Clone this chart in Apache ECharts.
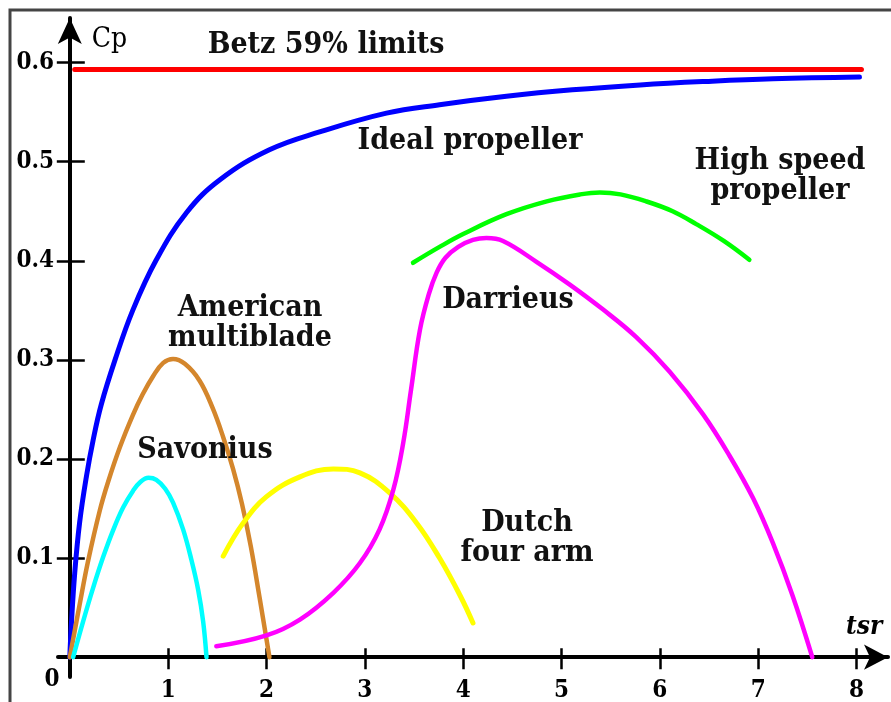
<!DOCTYPE html>
<html>
<head>
<meta charset="utf-8">
<script src="https://cdn.jsdelivr.net/npm/echarts@6/dist/echarts.min.js"></script>
<style>
html,body{margin:0;padding:0;background:#fff;}
#chart{width:891px;height:702px;}
</style>
</head>
<body>
<div id="chart"></div>
<script>
// ---- data ----
const xTicks = [1, 2, 3, 4, 5, 6, 7, 8];
const yTicks = [0.1, 0.2, 0.3, 0.4, 0.5, 0.6];

const betzX = [0.05, 8.05];
const betzY = [0.593, 0.593];

const idealX = [0, 0.017, 0.05, 0.10, 0.17, 0.237, 0.32, 0.46, 0.64, 0.88, 1.19, 1.53, 2.03, 2.54, 3.22, 3.76, 4.44, 5.11, 5.8, 6.47, 7.15, 8.03];
const idealY = [0, 0.035, 0.085, 0.136, 0.183, 0.219, 0.255, 0.3, 0.35, 0.401, 0.449, 0.482, 0.512, 0.53, 0.549, 0.5575, 0.566, 0.5725, 0.5775, 0.581, 0.5837, 0.5855];

const multiX = [0, 0.10, 0.186, 0.305, 0.39, 0.51, 0.64, 0.74, 0.85, 0.95, 1.05, 1.17, 1.32, 1.45, 1.56, 1.66, 1.75, 1.84, 1.93, 2.03];
const multiY = [0, 0.053, 0.097, 0.148, 0.177, 0.212, 0.244, 0.265, 0.284, 0.297, 0.301, 0.296, 0.279, 0.252, 0.222, 0.19, 0.155, 0.112, 0.06, 0];

const savoX = [0.034, 0.135, 0.237, 0.339, 0.44, 0.542, 0.644, 0.72, 0.8, 0.88, 0.97, 1.05, 1.152, 1.237, 1.305, 1.356, 1.39];
const savoY = [0, 0.036, 0.07, 0.101, 0.128, 0.151, 0.168, 0.177, 0.181, 0.179, 0.17, 0.156, 0.129, 0.098, 0.068, 0.036, 0];

const dutchX = [1.56, 1.76, 2.0, 2.34, 2.68, 2.95, 3.25, 3.53, 3.76, 3.97, 4.1];
const dutchY = [0.102, 0.135, 0.162, 0.182, 0.19, 0.186, 0.166, 0.135, 0.1, 0.062, 0.0345];

const darrX = [1.49, 2.0, 2.34, 2.68, 2.95, 3.15, 3.29, 3.39, 3.47, 3.56, 3.65, 3.73, 3.82, 3.95, 4.1, 4.237, 4.405, 4.745, 5.084, 5.42, 5.76, 6.10, 6.44, 6.71, 6.95, 7.15, 7.35, 7.55];
const darrY = [0.011, 0.022, 0.038, 0.065, 0.095, 0.129, 0.169, 0.216, 0.27, 0.33, 0.366, 0.388, 0.403, 0.414, 0.421, 0.423, 0.42, 0.399, 0.376, 0.351, 0.323, 0.288, 0.245, 0.203, 0.16, 0.115, 0.062, 0];

const greenX = [3.49, 3.76, 4.0, 4.44, 4.85, 5.19, 5.39, 5.6, 5.86, 6.13, 6.37, 6.65, 6.91];
const greenY = [0.398, 0.414, 0.427, 0.447, 0.46, 0.467, 0.469, 0.467, 0.46, 0.45, 0.437, 0.42, 0.401];

// ---- build ----
const zip = (xs, ys) => xs.map((x, i) => [x, ys[i]]);
const FONT_FAMILY = '"DejaVu Serif Condensed", "DejaVu Serif", serif';
const chart = echarts.init(document.getElementById('chart'), null, {renderer: 'canvas'});

function line(name, xs, ys, color, width, smooth) {
  return {
    name: name, type: 'line', data: zip(xs, ys), showSymbol: false, symbol: 'none',
    smooth: smooth,
    lineStyle: {color: color, width: width, cap: 'round', join: 'round'},
    silent: true, z: 3
  };
}

function label(text, x, y) {
  return {
    type: 'text', x: x, y: y, z: 10,
    style: {text: text, fill: '#111', font: 'bold 30px ' + FONT_FAMILY,
      align: 'center', verticalAlign: 'middle', lineHeight: 30}
  };
}

const axisFontBold = {fontFamily: FONT_FAMILY, fontWeight: 'bold', fontSize: 24, color: '#000'};

chart.setOption({
  animation: false,
  backgroundColor: '#fff',
  grid: {left: 58, right: 3, top: 18, bottom: 25, containLabel: false, outerBoundsMode: 'none'},
  xAxis: [{
    type: 'value', min: -0.12, max: 8.32, position: 'bottom',
    axisLine: {show: true, onZero: true, onZeroAxisIndex: 0, symbol: ['none', 'arrow'], symbolSize: [19, 24],
      lineStyle: {color: '#000', width: 4}},
    axisTick: {show: true, customValues: xTicks, length: 12, lineStyle: {color: '#000', width: 2.5}},
    axisLabel: Object.assign({show: true, customValues: xTicks, margin: 2}, axisFontBold),
    splitLine: {show: false},
    name: 'tsr', nameLocation: 'end', nameGap: -42,
    nameTextStyle: {fontFamily: FONT_FAMILY, fontStyle: 'italic', fontWeight: 'bold', fontSize: 26, color: '#000',
      align: 'left', verticalAlign: 'bottom', padding: [0, 0, 17, 0]}
  }, {
    type: 'value', min: -0.12, max: 8.32, position: 'top',
    axisLine: {show: false, onZero: true, onZeroAxisIndex: 0},
    axisTick: {show: true, customValues: xTicks, length: 9, lineStyle: {color: '#000', width: 2.5}},
    axisLabel: {show: false},
    splitLine: {show: false}
  }],
  yAxis: [{
    type: 'value', min: -0.02, max: 0.645, position: 'left',
    axisLine: {show: true, onZero: true, onZeroAxisIndex: 0, symbol: ['none', 'arrow'], symbolSize: [18, 26],
      lineStyle: {color: '#000', width: 4}},
    axisTick: {show: true, customValues: yTicks, length: 13, lineStyle: {color: '#000', width: 2.5}},
    axisLabel: Object.assign({show: true, customValues: yTicks, margin: 4,
      formatter: v => v.toFixed(1)}, axisFontBold),
    splitLine: {show: false},
    name: 'Cp', nameLocation: 'end', nameGap: -36,
    nameTextStyle: {fontFamily: FONT_FAMILY, fontSize: 28, color: '#000',
      align: 'left', verticalAlign: 'bottom', padding: [0, 0, 0, 22]}
  }, {
    type: 'value', min: -0.02, max: 0.645, position: 'right',
    axisLine: {show: false, onZero: true, onZeroAxisIndex: 0},
    axisTick: {show: true, customValues: yTicks, length: 15, lineStyle: {color: '#000', width: 2.5}},
    axisLabel: {show: false},
    splitLine: {show: false}
  }],
  series: [
    line('Betz 59% limits', betzX, betzY, '#ff0000', 5, false),
    line('Ideal propeller', idealX, idealY, '#0000ff', 5, 0.4),
    line('American multiblade', multiX, multiY, '#d4862c', 4.5, 0.4),
    line('Savonius', savoX, savoY, '#00ffff', 4.5, 0.4),
    line('Dutch four arm', dutchX, dutchY, '#ffff00', 5, 0.4),
    line('Darrieus', darrX, darrY, '#ff00ff', 4.5, 0.4),
    line('High speed propeller', greenX, greenY, '#00ff00', 4.5, 0.4)
  ],
  graphic: [
    {type: 'rect', shape: {x: 10, y: 10, width: 900, height: 720}, style: {fill: 'none', stroke: '#444', lineWidth: 3}, z: 0, silent: true},
    {type: 'text', x: 52, y: 680, z: 10, style: {text: '0', fill: '#000', font: 'bold 24px ' + FONT_FAMILY, align: 'center', verticalAlign: 'middle'}},
    label('Betz 59% limits', 326, 45),
    label('Ideal propeller', 470, 141),
    label('High speed\npropeller', 780, 176),
    label('American\nmultiblade', 250, 323),
    label('Savonius', 205, 450),
    label('Darrieus', 508, 300),
    label('Dutch\nfour arm', 527, 538)
  ]
});
</script>
</body>
</html>
